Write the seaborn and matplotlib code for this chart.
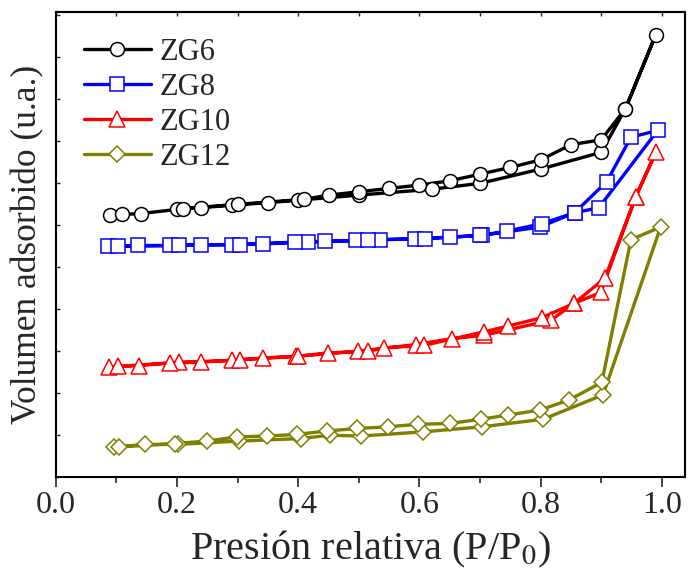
import matplotlib
matplotlib.use("Agg")
import matplotlib.pyplot as plt
from matplotlib.ticker import MultipleLocator, NullFormatter
import seaborn as sns
import pandas as pd

# isotherm branches, relative pressure vs adsorbed volume (arbitrary units)
zg6_ads_x = [0.09, 0.11, 0.14, 0.20, 0.24, 0.29, 0.35, 0.40, 0.50, 0.62, 0.70, 0.80, 0.90, 0.94, 0.99]
zg6_ads_y = [312, 313, 314, 319, 321, 324, 327, 330, 336, 343, 350, 367, 387, 439, 527]
zg6_des_x = [0.94, 0.90, 0.85, 0.80, 0.75, 0.70, 0.65, 0.60, 0.55, 0.50, 0.45, 0.41, 0.30, 0.21]
zg6_des_y = [439, 402, 396, 378, 369, 361, 353, 348, 344, 340, 336, 331, 325, 320]

zg8_ads_x = [0.086, 0.135, 0.188, 0.29, 0.342, 0.416, 0.495, 0.592, 0.65, 0.703, 0.799, 0.856, 0.896, 0.993]
zg8_ads_y = [275, 276, 276, 277, 278, 280, 282, 284, 286, 288, 298, 315, 321, 413]
zg8_des_x = [0.949, 0.909, 0.856, 0.802, 0.744, 0.70, 0.609, 0.535, 0.515, 0.444, 0.394, 0.304, 0.239, 0.203, 0.102]
zg8_des_y = [405, 352, 315, 302, 293, 288, 284, 283, 282, 281, 280, 277, 277, 276, 275]

zg10_ads_x = [0.087, 0.137, 0.203, 0.29, 0.342, 0.396, 0.498, 0.594, 0.653, 0.706, 0.817, 0.855, 0.899, 0.957, 0.99]
zg10_ads_y = [131, 133, 137, 139, 142, 144, 150, 158, 165, 169, 187, 207, 220, 334, 387]
zg10_des_x = [0.957, 0.906, 0.855, 0.802, 0.746, 0.706, 0.607, 0.541, 0.515, 0.449, 0.399, 0.304, 0.239, 0.188, 0.102]
zg10_des_y = [334, 237, 207, 190, 180, 173, 157, 154, 150, 148, 144, 140, 137, 136, 132]

zg12_ads_x = [0.096, 0.147, 0.201, 0.302, 0.404, 0.452, 0.503, 0.606, 0.703, 0.804, 0.903, 0.998]
zg12_ads_y = [36, 39, 39, 43, 46, 50, 49, 54, 60, 69, 98, 298]
zg12_des_x = [0.949, 0.901, 0.847, 0.799, 0.746, 0.701, 0.65, 0.597, 0.548, 0.497, 0.447, 0.398, 0.348, 0.299, 0.249, 0.196, 0.104]
zg12_des_y = [283, 113, 92, 80, 74, 69, 64, 63, 60, 58, 55, 51, 49, 48, 43, 40, 36]

samples = ["ZG6", "ZG8", "ZG10", "ZG12"]
colors = ["#000000", "#0000ff", "#ff0000", "#808000"]
markers = ["o", "s", "^", "D"]
marker_sizes = [10, 9.5, 11, 8.5]
branches = [
    (zg6_ads_x, zg6_ads_y, zg6_des_x, zg6_des_y),
    (zg8_ads_x, zg8_ads_y, zg8_des_x, zg8_des_y),
    (zg10_ads_x, zg10_ads_y, zg10_des_x, zg10_des_y),
    (zg12_ads_x, zg12_ads_y, zg12_des_x, zg12_des_y),
]

sns.set_style("ticks")
plt.rcParams["font.family"] = ["Liberation Serif", "DejaVu Serif"]
plt.rcParams["mathtext.fontset"] = "stix"

fig = plt.figure(figsize=(6.89, 5.77), dpi=100)
ax = fig.add_axes([0.081, 0.173, 0.913, 0.806])

for name, col, mk, ms, (ax_x, ax_y, dx, dy) in zip(samples, colors, markers, marker_sizes, branches):
    # adsorption up, then desorption back down
    df = pd.DataFrame({"p": ax_x + dx, "v": ax_y + dy})
    sns.lineplot(data=df, x="p", y="v", sort=False, estimator=None, ax=ax,
                 color=col, lw=2.4, marker=mk, markersize=ms,
                 markerfacecolor="white", markeredgecolor=col, markeredgewidth=1.1,
                 label=name)

ax.set_xlim(0, 1.038)
ax.set_ylim(0, 554)
ax.xaxis.set_major_locator(MultipleLocator(0.2))
ax.xaxis.set_minor_locator(MultipleLocator(0.1))
ax.yaxis.set_major_locator(MultipleLocator(50))
ax.yaxis.set_major_formatter(NullFormatter())
ax.tick_params(axis="x", which="major", direction="out", length=7, width=1.2,
               labelsize=23, top=False, pad=3)
ax.tick_params(axis="x", which="minor", direction="out", length=4, width=1.2, top=False)
ax.tick_params(axis="y", which="major", direction="in", length=3, width=1.0)
# small inward ticks along the top edge
top = ax.secondary_xaxis("top")
top.xaxis.set_major_locator(MultipleLocator(0.1))
top.xaxis.set_major_formatter(NullFormatter())
top.tick_params(direction="in", length=3, width=1.0)

for s in list(ax.spines.values()) + [top.spines["top"]]:
    s.set_linewidth(1.5)
    s.set_color("black")

ax.set_xlabel(r"Presión relativa (P/P$_0$)", fontsize=29, labelpad=6)
ax.set_ylabel("Volumen adsorbido (u.a.)", fontsize=25.5, labelpad=5)

leg = ax.legend(loc="upper left", bbox_to_anchor=(0.02, 0.978), frameon=False,
                fontsize=22, handlelength=2.2, labelspacing=0.2, handletextpad=0.3,
                borderaxespad=0.1)

fig.savefig("out.png", dpi=100)
